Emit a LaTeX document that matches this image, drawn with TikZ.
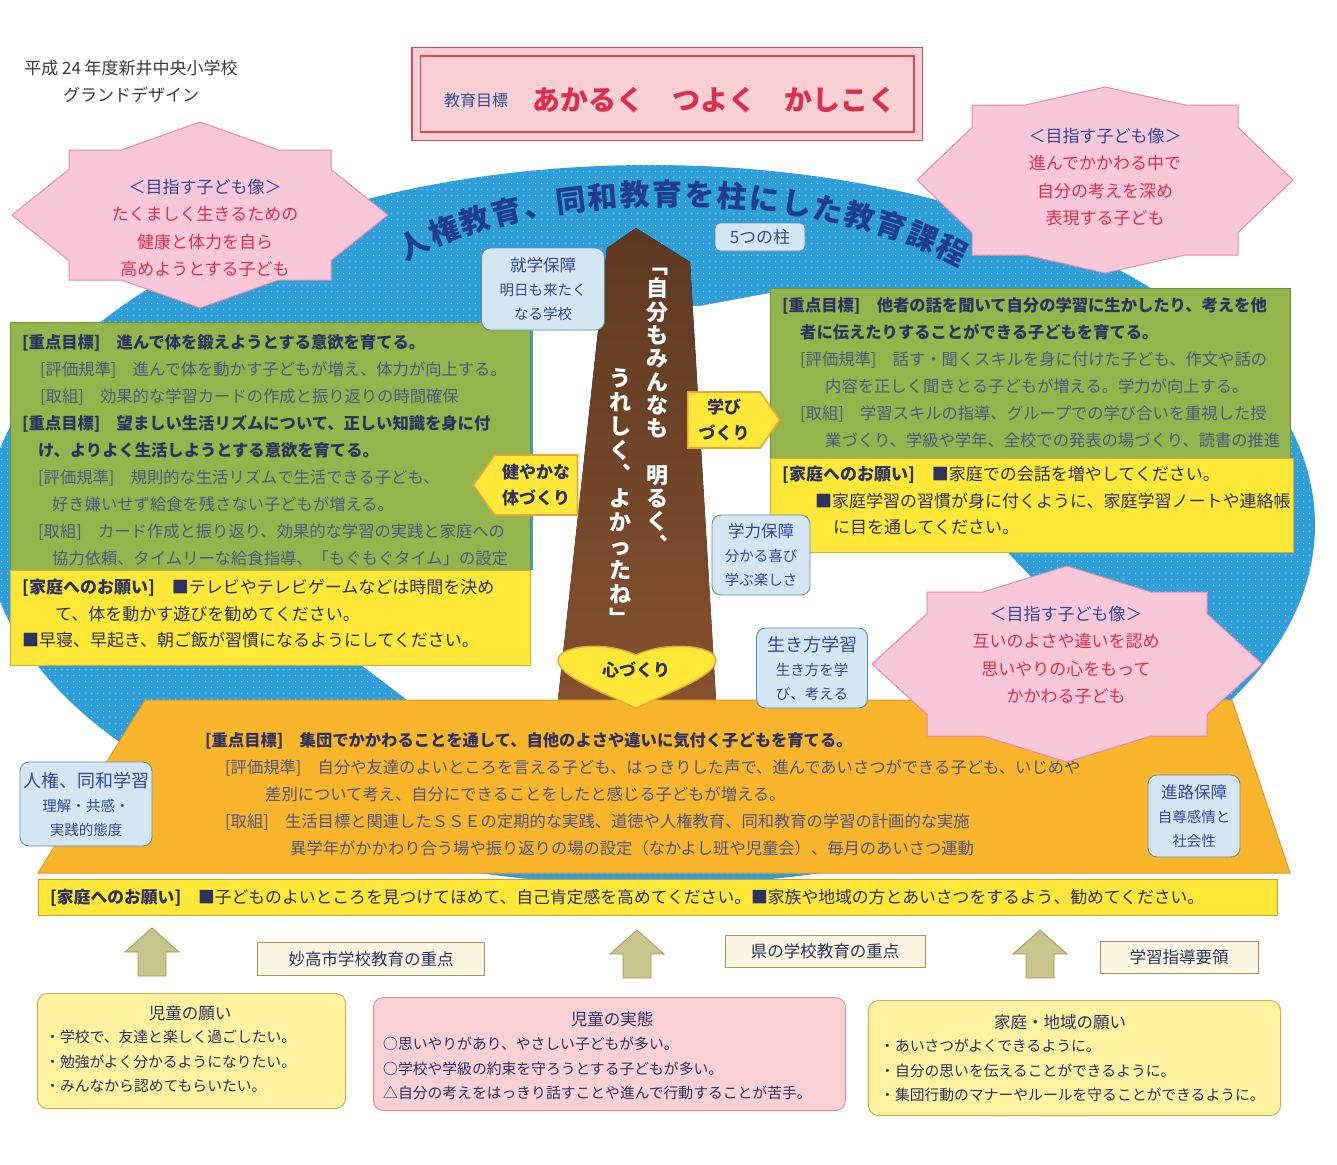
\documentclass[tikz,border=0pt]{standalone}
\usepackage{fontspec}
\setmainfont{Noto Sans CJK JP}
\usetikzlibrary{shapes.symbols,decorations.text,patterns.meta}
\definecolor{gdblue}{HTML}{2E9FD9}
\definecolor{gdnavy}{HTML}{1F3D8C}
\definecolor{gdpinkfill}{HTML}{F9C8D8}
\definecolor{gdpinkline}{HTML}{E58AA6}
\definecolor{gdred}{HTML}{D9304F}
\definecolor{gdstarnavy}{HTML}{34499C}
\definecolor{gdgreen}{HTML}{93B54C}
\definecolor{gdgreenline}{HTML}{6F8F38}
\definecolor{gdyellow}{HTML}{FFE838}
\definecolor{gdyellowline}{HTML}{E5A63C}
\definecolor{gdorange}{HTML}{F9B52C}
\definecolor{gdorangeline}{HTML}{E0962A}
\definecolor{gdbrown}{HTML}{85512F}
\definecolor{gdpale}{HTML}{D4E6F1}
\definecolor{gdpaleline}{HTML}{5E8CAA}
\definecolor{gdink}{HTML}{2D3262}
\definecolor{gdinklight}{HTML}{4E5684}
\definecolor{gdolive}{HTML}{C7C58B}
\definecolor{gdoliveline}{HTML}{9D9B5C}
\definecolor{gdcream}{HTML}{FAF6E1}
\definecolor{gdbanner}{HTML}{F8D0D3}
\definecolor{gdbannerline}{HTML}{D44A5C}
\definecolor{gdwishyellow}{HTML}{FEF2A0}
\definecolor{gdwishpink}{HTML}{F9D0D4}
\definecolor{gdwishline}{HTML}{C9B250}
\definecolor{gdgray}{HTML}{3A3A3A}

\newcommand{\setfs}[2]{\fontsize{#1}{#2}\selectfont}
% wish star: centre x, centre y, body half width, body half height, tip x, tip y
\newcommand{\wishstar}[6]{%
  \begin{scope}[shift={(#1,#2)}]
    \pgfmathsetmacro\wsa{0.6*#3}
    \pgfmathsetmacro\wsb{0.7*#4}
    \draw[wish] (0,-#6) -- (\wsa,-#4) -- (#3,-#4) -- (#3,-\wsb) -- (#5,0)
      -- (#3,\wsb) -- (#3,#4) -- (\wsa,#4) -- (0,#6) -- (-\wsa,#4) -- (-#3,#4)
      -- (-#3,\wsb) -- (-#5,0) -- (-#3,-\wsb) -- (-#3,-#4) -- (-\wsa,-#4) -- cycle;
  \end{scope}}

\tikzdeclarepattern{name=fielddots, type=uncolored,
  bounding box={(0pt,0pt) and (6pt,6pt)}, tile size={(6pt,6pt)},
  code={\pgfpathcircle{\pgfpoint{3pt}{3pt}}{0.8pt}\pgfusepath{fill}}}

\begin{document}
\begin{tikzpicture}[
    x=1pt, y=-1pt,
    every node/.style={inner sep=0pt, text=gdink},
    boxpanel/.style={anchor=north west, line width=1pt},
    bodytext/.style={anchor=north west, align=left, font=\setfs{16.3}{27}},
    hometext/.style={anchor=north west, align=left, font=\setfs{17}{26.5}},
    pale/.style={rectangle, rounded corners=9pt, fill=gdpale, draw=gdpaleline,
                 line width=0.9pt, align=center, text=gdstarnavy, font=\setfs{14.5}{24}},
    wish/.style={fill=gdpinkfill, draw=gdpinkline, line width=1pt, line join=miter},
    wishtext/.style={align=center, text=gdred, font=\setfs{17}{27.5}},
    tag/.style={signal, signal pointer angle=110, fill=gdyellow, draw=gdyellowline,
                line width=1.6pt, align=center, font=\setfs{17}{26}\bfseries},
    pillartext/.style={anchor=north, align=center, text=white, font=\setfs{22}{23.3}\bfseries},
    uparrow/.style={fill=gdolive, draw=gdoliveline, line width=0.8pt},
    source/.style={rectangle, fill=gdcream, draw=gdoliveline, line width=0.8pt,
                   font=\setfs{16.5}{20}},
    wishbox/.style={rectangle, rounded corners=10pt, line width=1pt, anchor=north west},
    listtext/.style={anchor=north west, align=left, font=\setfs{14.8}{24.5}}
  ]

  % ---- Canvas ----
  \useasboundingbox (0,0) rectangle (1337,1164);
  \fill[white] (0,0) rectangle (1337,1164);

  % ---- Blue curriculum field and the white road ----
  \fill[gdblue] (650,525) ellipse [x radius=665, y radius=360];
  \fill[pattern=fielddots, pattern color=gdblue!55!white] (650,525) ellipse [x radius=665, y radius=360];
  \fill[white] (533,330) -- (585,302) -- (700,306) -- (775,292) -- (1010,555)
    -- (1150,702) -- (410,702) -- (364,667) -- (300,610) -- (533,570) -- cycle;

  % ---- Title on the arc ----
  \path[decorate, decoration={text along path, text align=fit to path,
      text={|\setfs{30}{30}\bfseries\color{gdnavy}|人権教育、同和教育を柱にした教育課程}}]
    (406,262) .. controls (525,188) and (815,183) .. (960,268);

  \node[pale, minimum width=90pt, minimum height=28pt, rounded corners=5pt,
        font=\setfs{17}{20}] (fivepillars) at (760,237) {5つの柱};

  % ---- School title ----
  \node[align=center, font=\setfs{17}{27}, text=gdgray] (schooltitle) at (131,81)
    {平成 24 年度新井中央小学校\\グランドデザイン};

  % ---- Goal banner ----
  \node[draw=gdbannerline, double=gdbanner, double distance=7pt, line width=1.4pt,
        fill=gdbanner, minimum width=502pt, minimum height=84pt] (goalbanner) at (667,94) {};
  \node[font=\setfs{16}{20}, text=gdstarnavy] (goallabel) at (476,100) {教育目標};
  \node[font=\setfs{28}{30}\bfseries, text=gdred, anchor=west] (goaltext) at (532,100)
    {あかるく　つよく　かしこく};

  % ============ Wish stars (top) ============
  \wishstar{200}{215}{131}{65}{188}{93}
  \node[wishtext] (leftwish) at (205,228)
    {\textcolor{gdstarnavy}{＜目指す子ども像＞}\\たくましく生きるための\\健康と体力を自ら\\高めようとする子ども};

  \wishstar{1105}{180}{133}{75}{188}{93}
  \node[wishtext] (rightwish) at (1105,177)
    {\textcolor{gdstarnavy}{＜目指す子ども像＞}\\進んでかかわる中で\\自分の考えを深め\\表現する子ども};

  % ============ LEFT: body ============
  \node[boxpanel, fill=gdgreen, draw=gdgreenline, minimum width=520pt, minimum height=248pt]
    (leftgoal) at (10,322) {};
  \node[bodytext] (leftgoaltext) at (22,334) {%
    \textbf{[重点目標]　進んで体を鍛えようとする意欲を育てる。}\\%
    \hspace*{18pt}\textcolor{gdinklight}{[評価規準]　進んで体を動かす子どもが増え、体力が向上する。}\\%
    \hspace*{18pt}\textcolor{gdinklight}{[取組]　効果的な学習カードの作成と振り返りの時間確保}\\%
    \textbf{[重点目標]　望ましい生活リズムについて、正しい知識を身に付}\\%
    \hspace*{16pt}\textbf{け、よりよく生活しようとする意欲を育てる。}\\%
    \hspace*{16pt}\textcolor{gdinklight}{[評価規準]　規則的な生活リズムで生活できる子ども、}\\%
    \hspace*{30pt}\textcolor{gdinklight}{好き嫌いせず給食を残さない子どもが増える。}\\%
    \hspace*{16pt}\textcolor{gdinklight}{[取組]　カード作成と振り返り、効果的な学習の実践と家庭への}\\%
    \hspace*{30pt}\textcolor{gdinklight}{協力依頼、タイムリーな給食指導、「もぐもぐタイム」の設定}};

  \node[boxpanel, fill=gdyellow, draw=gdyellowline, minimum width=520pt, minimum height=95pt]
    (lefthome) at (10,570) {};
  \node[hometext] (lefthometext) at (22,579) {%
    \textbf{[家庭へのお願い]}　■テレビやテレビゲームなどは時間を決め\\%
    \hspace*{33pt}て、体を動かす遊びを勧めてください。\\%
    ■早寝、早起き、朝ご飯が習慣になるようにしてください。};

  % ============ RIGHT: learning ============
  \node[boxpanel, fill=gdgreen, draw=gdgreenline, minimum width=520pt, minimum height=170pt]
    (rightgoal) at (770,288) {};
  \node[bodytext] (rightgoaltext) at (782,297) {%
    \textbf{[重点目標]　他者の話を聞いて自分の学習に生かしたり、考えを他}\\%
    \hspace*{18pt}\textbf{者に伝えたりすることができる子どもを育てる。}\\%
    \hspace*{18pt}\textcolor{gdinklight}{[評価規準]　話す・聞くスキルを身に付けた子ども、作文や話の}\\%
    \hspace*{43pt}\textcolor{gdinklight}{内容を正しく聞きとる子どもが増える。学力が向上する。}\\%
    \hspace*{18pt}\textcolor{gdinklight}{[取組]　学習スキルの指導、グループでの学び合いを重視した授}\\%
    \hspace*{43pt}\textcolor{gdinklight}{業づくり、学級や学年、全校での発表の場づくり、読書の推進}};

  \node[boxpanel, fill=gdyellow, draw=gdyellowline, minimum width=523pt, minimum height=94pt]
    (righthome) at (770,458) {};
  \node[hometext] (righthometext) at (782,466) {%
    \textbf{[家庭へのお願い]}　■家庭での会話を増やしてください。\\%
    \hspace*{33pt}■家庭学習の習慣が身に付くように、家庭学習ノートや連絡帳\\%
    \hspace*{51pt}に目を通してください。};

  % ============ CENTRE: pillar ============
  \fill[top color=gdbrown!70!black, bottom color=gdbrown]
    (558,700) -- (607,248) -- (636,228) -- (690,262) -- (716,700) -- cycle;
  \node[pillartext] (motto) at (657,268)
    {﹁\\自\\分\\も\\み\\ん\\な\\も\\[23.3pt]明\\る\\く\\︑};
  \node[pillartext, font=\setfs{22}{24}\bfseries] (mottoend) at (620,368)
    {う\\れ\\し\\く\\︑\\よ\\か\\っ\\た\\ね\\﹂};

  \node[pale, minimum width=123pt, minimum height=82pt] (attendance) at (543,289)
    {{\setfs{16.5}{24}就学保障}\\明日も来たく\\なる学校};
  \node[pale, minimum width=98pt, minimum height=80pt] (ability) at (761,555)
    {{\setfs{16.5}{24}学力保障}\\分かる喜び\\学ぶ楽しさ};

  \node[tag, signal to=east, minimum width=92pt, minimum height=56pt] (learning) at (724,420)
    {学び\\づくり};
  \node[tag, signal to=west, minimum width=104pt, minimum height=60pt] (fitness) at (536,485)
    {健やかな\\体づくり};

  % ============ BOTTOM: relations ============
  \draw[fill=gdorange, draw=gdorangeline, line width=1pt]
    (145,700) -- (1232,700) -- (1290,873) -- (38,873) -- cycle;
  \node[bodytext] (relationtext) at (205,732) {%
    \textbf{[重点目標]　集団でかかわることを通して、自他のよさや違いに気付く子どもを育てる。}\\%
    \hspace*{20pt}\textcolor{gdinklight}{[評価規準]　自分や友達のよいところを言える子ども、はっきりした声で、進んであいさつができる子ども、いじめや}\\%
    \hspace*{60pt}\textcolor{gdinklight}{差別について考え、自分にできることをしたと感じる子どもが増える。}\\%
    \hspace*{20pt}\textcolor{gdinklight}{[取組]　生活目標と関連したＳＳＥの定期的な実践、道徳や人権教育、同和教育の学習の計画的な実施}\\%
    \hspace*{85pt}\textcolor{gdinklight}{異学年がかかわり合う場や振り返りの場の設定（なかよし班や児童会）、毎月のあいさつ運動}};

  \wishstar{1067}{664}{140}{72}{195}{98}
  \node[wishtext] (lowerwish) at (1066,655)
    {\textcolor{gdstarnavy}{＜目指す子ども像＞}\\互いのよさや違いを認め\\思いやりの心をもって\\かかわる子ども};

  \node[pale, minimum width=111pt, minimum height=80pt] (wayoflife) at (812,668)
    {{\setfs{18}{24}生き方学習}\\生き方を学\\び、考える};

  % heart: 心づくり
  \draw[fill=gdyellow, draw=gdyellowline, line width=1.4pt]
    (636,708) .. controls (602,692) and (558,676) .. (558,660)
    .. controls (558,646) and (604,640) .. (636,655)
    .. controls (668,640) and (716,646) .. (716,660)
    .. controls (716,676) and (670,692) .. (636,708) -- cycle;
  \node[font=\setfs{17}{20}\bfseries] (heart) at (636,670) {心づくり};

  \node[pale, minimum width=132pt, minimum height=84pt] (rights) at (86,804)
    {{\setfs{18}{24}人権、同和学習}\\理解・共感・\\実践的態度};
  \node[pale, minimum width=92pt, minimum height=82pt] (career) at (1194,816)
    {{\setfs{16.5}{24}進路保障}\\自尊感情と\\社会性};

  \node[boxpanel, fill=gdyellow, draw=gdorangeline, minimum width=1239pt, minimum height=36pt]
    (homeband) at (38,879) {};
  \node[anchor=west, font=\setfs{16.8}{20}] (homebandtext) at (50,898)
    {\textbf{[家庭へのお願い]}　■子どものよいところを見つけてほめて、自己肯定感を高めてください。■家族や地域の方とあいさつをするよう、勧めてください。};

  % ---- Foundations ----
  \foreach \ax/\ay in {152/928, 637/930, 1040/930}
    \draw[uparrow] (\ax,\ay) -- ++(27,24) -- ++(-13,0) -- ++(0,24) -- ++(-28,0)
      -- ++(0,-24) -- ++(-13,0) -- cycle;

  \node[source, minimum width=227pt, minimum height=33pt] (cityfocus) at (371,959) {妙高市学校教育の重点};
  \node[source, minimum width=200pt, minimum height=32pt] (prefocus) at (825,951) {県の学校教育の重点};
  \node[source, minimum width=158pt, minimum height=32pt] (courseguide) at (1179,957) {学習指導要領};

  \node[wishbox, fill=gdwishyellow, draw=gdwishline, minimum width=308pt, minimum height=115pt]
    (childwish) at (37,993) {};
  \node[font=\setfs{16.5}{20}] (childwishtitle) at (190,1013) {児童の願い};
  \node[listtext] (childwishlist) at (45,1030)
    {・学校で、友達と楽しく過ごしたい。\\・勉強がよく分かるようになりたい。\\・みんなから認めてもらいたい。};

  \node[wishbox, fill=gdwishpink, draw=gdpinkline, minimum width=472pt, minimum height=113pt]
    (childstate) at (373,997) {};
  \node[font=\setfs{16.5}{20}] (childstatetitle) at (612,1019) {児童の実態};
  \node[listtext] (childstatelist) at (383,1037)
    {○思いやりがあり、やさしい子どもが多い。\\○学校や学級の約束を守ろうとする子どもが多い。\\△自分の考えをはっきり話すことや進んで行動することが苦手。};

  \node[wishbox, fill=gdwishyellow, draw=gdwishline, minimum width=412pt, minimum height=115pt]
    (communitywish) at (868,1000) {};
  \node[font=\setfs{16.5}{20}] (communitywishtitle) at (1060,1022) {家庭・地域の願い};
  \node[listtext] (communitywishlist) at (880,1039)
    {・あいさつがよくできるように。\\・自分の思いを伝えることができるように。\\・集団行動のマナーやルールを守ることができるように。};

\end{tikzpicture}
\end{document}
